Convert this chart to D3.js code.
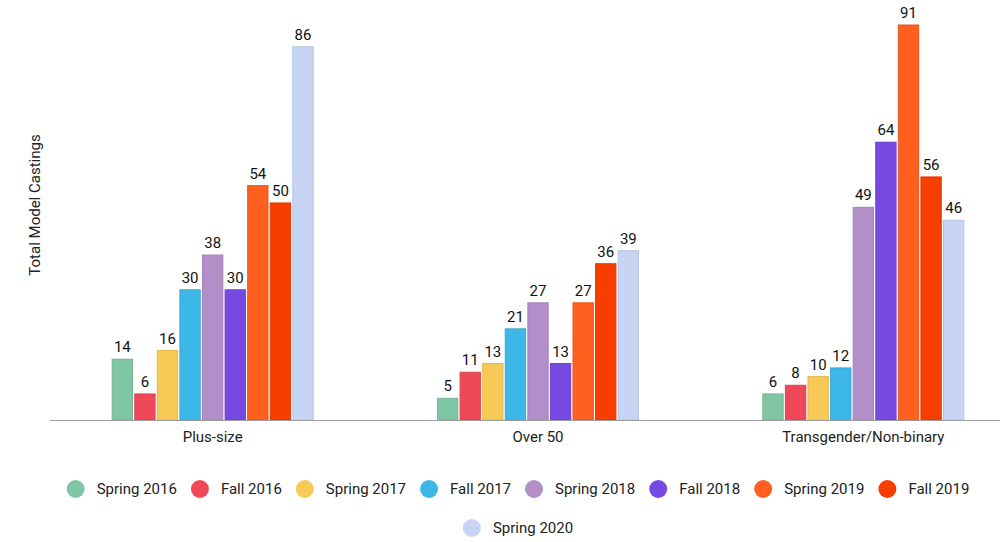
<!DOCTYPE html>
<html>
<head>
<meta charset="utf-8">
<script src="https://cdn.jsdelivr.net/npm/d3@7"></script>
<style>
  body { margin: 0; background: #fff; }
  svg { font-family: Roboto, "Noto Sans", sans-serif; }
</style>
</head>
<body>
<svg id="chart" width="1000" height="542"></svg>
<script>
// Data
const categories = ["Plus-size", "Over 50", "Transgender/Non-binary"];
const seasons = ["Spring 2016", "Fall 2016", "Spring 2017", "Fall 2017", "Spring 2018",
                 "Fall 2018", "Spring 2019", "Fall 2019", "Spring 2020"];
const plusSize    = [14, 6, 16, 30, 38, 30, 54, 50, 86];
const over50      = [5, 11, 13, 21, 27, 13, 27, 36, 39];
const transgender = [6, 8, 10, 12, 49, 64, 91, 56, 46];
const colors = ["#7fc6a4", "#ef4858", "#f7c956", "#3db7e8", "#b38fc9",
                "#7649e3", "#ff5f1f", "#f83d00", "#c7d4f4"];

const seriesByCat = [plusSize, over50, transgender];

const svg = d3.select("#chart");
const baseY = 420, topY = 25;

// scales
const x0 = d3.scaleBand().domain(categories).range([50, 1026]);
const x1 = d3.scaleBand().domain(seasons).range([-100.5, 100.5]).paddingInner(0.1);
const y  = d3.scaleLinear().domain([0, 91]).range([baseY, topY]);
const color = d3.scaleOrdinal().domain(seasons).range(colors);

// bars
const groups = svg.selectAll(".grp")
  .data(categories)
  .enter().append("g")
    .attr("class", "grp")
    .attr("transform", d => `translate(${x0(d) + x0.bandwidth() / 2},0)`);

groups.each(function(cat, ci) {
  const g = d3.select(this);
  const rows = seasons.map((s, i) => ({ season: s, value: seriesByCat[ci][i] }));

  g.selectAll("rect")
    .data(rows)
    .enter().append("rect")
      .attr("x", d => x1(d.season))
      .attr("y", d => y(d.value))
      .attr("width", x1.bandwidth())
      .attr("height", d => baseY - y(d.value))
      .attr("fill", d => color(d.season))
      .attr("stroke", d => d3.color(color(d.season)).darker(0.25))
      .attr("stroke-width", 1);

  g.selectAll("text.val")
    .data(rows)
    .enter().append("text")
      .attr("class", "val")
      .attr("x", d => x1(d.season) + x1.bandwidth() / 2)
      .attr("y", d => y(d.value) - 7)
      .attr("text-anchor", "middle")
      .attr("font-size", 15)
      .attr("fill", "#111")
      .text(d => d.value);
});

// x axis baseline + labels
svg.append("line")
  .attr("x1", 50).attr("x2", 1000)
  .attr("y1", baseY + 0.5).attr("y2", baseY + 0.5)
  .attr("stroke", "#9e9e9e");

svg.selectAll(".cat")
  .data(categories)
  .enter().append("text")
    .attr("class", "cat")
    .attr("x", d => x0(d) + x0.bandwidth() / 2)
    .attr("y", 442)
    .attr("text-anchor", "middle")
    .attr("font-size", 15)
    .attr("fill", "#222")
    .text(d => d);

// y axis title
svg.append("text")
  .attr("transform", "translate(40,205) rotate(-90)")
  .attr("text-anchor", "middle")
  .attr("font-size", 15)
  .attr("fill", "#222")
  .text("Total Model Castings");

// legend: two rows, centered
const legendRows = [seasons.slice(0, 8), seasons.slice(8)];
const legendY = [489, 528];
const legendCenter = 518;
const r = 9, txtGap = 12, itemGap = 14;

legendRows.forEach((row, ri) => {
  const lg = svg.append("g");
  let cx = 0;
  row.forEach(s => {
    const item = lg.append("g").attr("transform", `translate(${cx},0)`);
    item.append("circle")
      .attr("cx", r).attr("cy", 0).attr("r", r)
      .attr("fill", color(s));
    const t = item.append("text")
      .attr("x", 2 * r + txtGap)
      .attr("y", 5)
      .attr("font-size", 15)
      .attr("fill", "#222")
      .text(s);
    cx += 2 * r + txtGap + t.node().getComputedTextLength() + itemGap;
  });
  const total = cx - itemGap;
  lg.attr("transform", `translate(${legendCenter - total / 2},${legendY[ri]})`);
});
</script>
</body>
</html>
